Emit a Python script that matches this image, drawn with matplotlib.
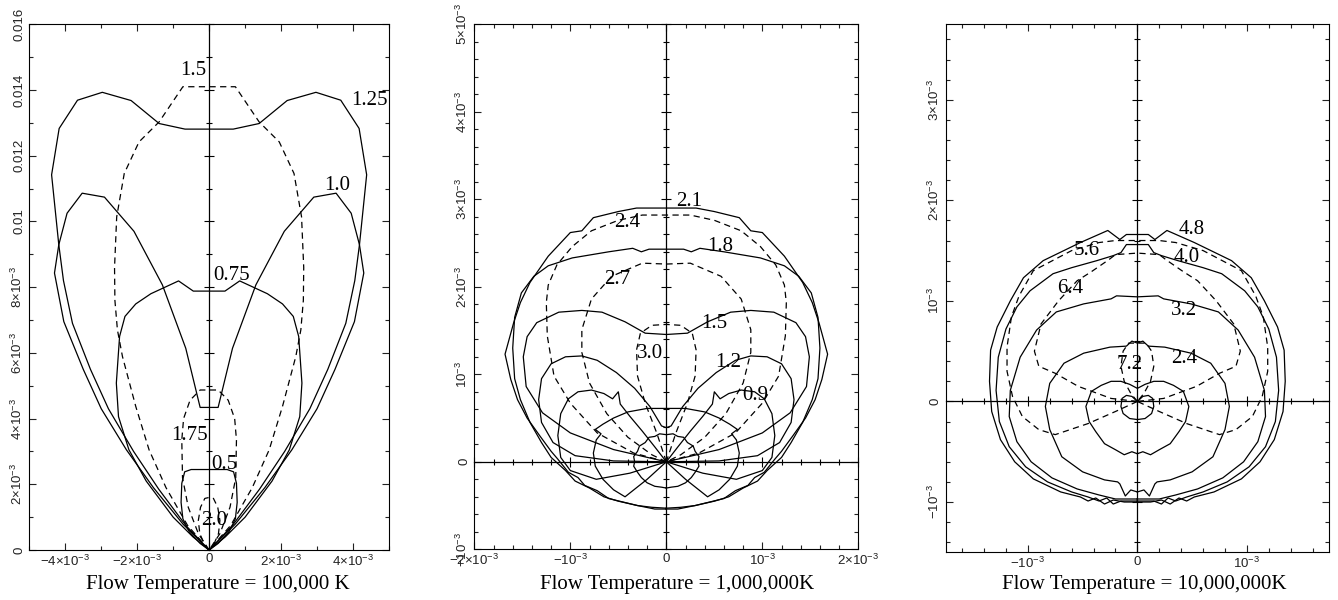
import matplotlib.pyplot as plt
from matplotlib.ticker import MultipleLocator

plt.rcParams['font.family'] = 'Liberation Sans'
plt.rcParams['mathtext.fontset'] = 'custom'
plt.rcParams['mathtext.rm'] = 'Liberation Sans'
plt.rcParams['mathtext.default'] = 'regular'

# Every curve is symmetric about x = 0: only the right half is stored,
# from the top (x = 0) clockwise down to the bottom.  Units of 1e-3.

# ---- T = 1e5 K ----
a_125_x = [0, 0.67, 1.39, 2.17, 2.97, 3.66, 4.17, 4.38, 4.18, 4.05, 3.80, 3.30, 2.80, 2.10, 1.40, 0.65, 0]
a_125_y = [12.81, 12.81, 12.98, 13.68, 13.93, 13.69, 12.83, 11.42, 9.29, 8.2, 6.9, 5.5, 4.3, 3.0, 1.85, 0.75, 0]
a_100_x = [0, 0.25, 0.65, 1.30, 2.09, 2.91, 3.53, 3.95, 4.18, 4.30, 4.04, 3.50, 3.0, 2.30, 1.55, 0.72, 0]
a_100_y = [4.34, 4.34, 6.14, 8.07, 9.70, 10.74, 10.86, 10.25, 9.29, 8.43, 6.95, 5.5, 4.3, 3.05, 1.9, 0.78, 0]
a_075_x = [0, 0.44, 0.85, 1.62, 2.04, 2.34, 2.49, 2.58, 2.52, 2.23, 1.75, 1.0, 0.45, 0]
a_075_y = [7.88, 7.88, 8.19, 7.80, 7.49, 7.11, 6.50, 5.08, 4.06, 3.05, 2.1, 1.0, 0.4, 0]
a_050_x = [0, 0.5, 0.68, 0.76, 0.78, 0.73, 0.55, 0.25, 0]
a_050_y = [2.45, 2.45, 2.38, 2.03, 1.45, 0.95, 0.55, 0.2, 0]
a_150_x = [0, 0.73, 1.39, 1.95, 2.36, 2.57, 2.63, 2.62, 2.55, 2.41, 2.04, 1.67, 1.2, 0.6, 0]
a_150_y = [14.1, 14.1, 13.03, 12.42, 11.46, 10.14, 8.6, 7.6, 6.7, 5.89, 4.37, 3.05, 1.9, 0.75, 0]
a_175_x = [0, 0.25, 0.53, 0.71, 0.76, 0.74, 0.58, 0.3, 0]
a_175_y = [4.87, 4.87, 4.56, 4.0, 3.35, 2.2, 1.3, 0.5, 0]
a_200_x = [0, 0.12, 0.24, 0.3, 0.26, 0.14, 0.04, 0]
a_200_y = [1.6, 1.57, 1.3, 0.9, 0.5, 0.2, 0.04, 0]

# ---- T = 1e6 K ----
b_210_x = [0, 0.31, 0.5, 0.76, 0.88, 1.0, 1.23, 1.42, 1.52, 1.59, 1.68, 1.62, 1.55, 1.45, 1.32, 1.2, 1.13,
           1.02, 0.92, 0.85, 0.72, 0.6, 0.45, 0.3, 0.15, 0]
b_210_y = [2.90, 2.90, 2.86, 2.79, 2.64, 2.62, 2.35, 2.05, 1.82, 1.59, 1.23, 0.94, 0.71, 0.5, 0.3, 0.12, 0.03,
           -0.12, -0.18, -0.27, -0.33, -0.42, -0.46, -0.5, -0.52, -0.53]
b_180_x = [0, 0.18, 0.26, 0.35, 0.6, 0.98, 1.23, 1.38, 1.51, 1.58, 1.60, 1.58, 1.52, 1.42, 1.3, 1.2, 1.05,
           0.95, 0.8, 0.65, 0.5, 0.3, 0.12, 0]
b_180_y = [2.43, 2.43, 2.40, 2.44, 2.40, 2.33, 2.24, 2.12, 1.93, 1.65, 1.3, 0.95, 0.71, 0.45, 0.22, 0.05, -0.1,
           -0.22, -0.3, -0.4, -0.45, -0.5, -0.54, -0.54]
b_150_x = [0, 0.22, 0.43, 0.67, 0.88, 1.12, 1.35, 1.45, 1.49, 1.46, 1.29, 1.0, 0.55, 0]
b_150_y = [1.455, 1.47, 1.6, 1.71, 1.73, 1.71, 1.59, 1.43, 1.2, 0.86, 0.56, 0.33, 0.14, 0]
b_120_x = [0, 0.05, 0.17, 0.33, 0.52, 0.72, 0.88, 1.05, 1.2, 1.3, 1.33, 1.3, 1.18, 0.95, 0.55, 0]
b_120_y = [0.39, 0.41, 0.63, 0.84, 1.02, 1.16, 1.21, 1.2, 1.12, 0.95, 0.71, 0.45, 0.22, 0.07, 0.01, 0]
b_090_x = [0, 0.12, 0.25, 0.38, 0.48, 0.5, 0.56, 0.65, 0.78, 0.92, 1.02, 1.1, 1.13, 1.1, 1.0, 0.73, 0.38, 0]
b_090_y = [0, 0.17, 0.35, 0.52, 0.66, 0.8, 0.72, 0.78, 0.82, 0.8, 0.72, 0.55, 0.3, 0.05, -0.1, -0.2, -0.13, 0]
b_060_x = [0, 0.2, 0.4, 0.55, 0.66, 0.74, 0.68, 0.73, 0.76, 0.74, 0.66, 0.55, 0.43, 0.2, 0]
b_060_y = [0.61, 0.61, 0.57, 0.5, 0.43, 0.37, 0.32, 0.25, 0.1, -0.05, -0.2, -0.32, -0.40, -0.2, 0]
b_030_x = [0, 0.07, 0.12, 0.18, 0.22, 0.28, 0.3, 0.34, 0.33, 0.34, 0.3, 0.26, 0.2, 0.12, 0.05, 0]
b_030_y = [0.31, 0.32, 0.29, 0.28, 0.22, 0.18, 0.12, 0.06, 0.0, -0.05, -0.12, -0.18, -0.24, -0.28, -0.29, -0.30]
b_240_x = [0, 0.25, 0.5, 0.78, 0.98, 1.14, 1.23, 1.25, 1.24, 1.17, 1.0, 0.72, 0.34, 0]
b_240_y = [2.82, 2.82, 2.76, 2.64, 2.46, 2.25, 2.02, 1.82, 1.44, 0.98, 0.67, 0.33, 0.1, 0]
b_270_x = [0, 0.25, 0.57, 0.78, 0.88, 0.88, 0.8, 0.62, 0.4, 0.15, 0]
b_270_y = [2.26, 2.27, 2.12, 1.86, 1.51, 1.25, 0.9, 0.55, 0.28, 0.08, 0]
b_300_x = [0, 0.15, 0.27, 0.31, 0.3, 0.22, 0.1, 0]
b_300_y = [1.57, 1.56, 1.47, 1.28, 0.98, 0.67, 0.33, 0]

# ---- T = 1e7 K ----
c_480_x = [0, 0.1, 0.16, 0.27, 0.52, 0.86, 1.04, 1.16, 1.28, 1.34, 1.35, 1.33, 1.25, 1.12, 0.95, 0.7, 0.52,
           0.45, 0.38, 0.3, 0.22, 0.12, 0]
c_480_y = [1.66, 1.66, 1.61, 1.70, 1.58, 1.40, 1.23, 1.0, 0.74, 0.51, 0.2, -0.1, -0.38, -0.6, -0.77, -0.9, -0.95,
           -0.99, -0.96, -1.02, -0.98, -1.0, -1.0]
c_400_x = [0, 0.1, 0.15, 0.22, 0.37, 0.6, 0.77, 0.98, 1.10, 1.2, 1.27, 1.29, 1.26, 1.17, 1.02, 0.82, 0.6,
           0.45, 0.35, 0.28, 0.22, 0.15, 0]
c_400_y = [1.56, 1.56, 1.48, 1.45, 1.40, 1.33, 1.27, 1.10, 0.94, 0.72, 0.44, 0.11, -0.2, -0.45, -0.65, -0.8,
           -0.9, -0.95, -0.99, -0.96, -1.02, -0.99, -0.99]
c_320_x = [0, 0.19, 0.24, 0.49, 0.74, 0.92, 1.07, 1.16, 1.17, 1.1, 0.97, 0.78, 0.55, 0.35, 0.2, 0]
c_320_y = [1.04, 1.05, 1.02, 0.97, 0.89, 0.71, 0.44, 0.11, -0.15, -0.4, -0.6, -0.76, -0.87, -0.93, -0.97, -0.97]
c_240_x = [0, 0.05, 0.1, 0.25, 0.49, 0.67, 0.8, 0.84, 0.8, 0.69, 0.5, 0.3, 0.18, 0.16, 0.11, 0.06, 0]
c_240_y = [0.58, 0.6, 0.55, 0.54, 0.48, 0.38, 0.18, -0.05, -0.28, -0.55, -0.7, -0.78, -0.8, -0.82, -0.94, -0.88, -0.9]
c_160_x = [0, 0.07, 0.15, 0.24, 0.33, 0.42, 0.47, 0.44, 0.38, 0.3, 0.2, 0.12, 0.05, 0]
c_160_y = [0.13, 0.17, 0.2, 0.2, 0.16, 0.1, -0.05, -0.2, -0.3, -0.42, -0.48, -0.53, -0.5, -0.52]
c_080_x = [0, 0.05, 0.1, 0.14, 0.15, 0.13, 0.07, 0]
c_080_y = [0.0, 0.05, 0.06, 0.03, -0.05, -0.12, -0.17, -0.18]
c_560_x = [0, 0.2, 0.35, 0.6, 0.95, 1.08, 1.15, 1.19, 1.19, 1.14, 1.05, 0.9, 0.75, 0.45, 0.2, 0]
c_560_y = [1.60, 1.60, 1.58, 1.5, 1.3, 1.05, 0.84, 0.54, 0.3, 0.05, -0.15, -0.28, -0.33, -0.22, -0.1, 0]
c_640_x = [0, 0.2, 0.26, 0.42, 0.55, 0.72, 0.88, 0.94, 0.9, 0.75, 0.54, 0.24, 0]
c_640_y = [1.475, 1.46, 1.41, 1.29, 1.2, 1.0, 0.77, 0.5, 0.35, 0.28, 0.15, 0.03, 0]
c_720_x = [0, 0.08, 0.13, 0.15, 0.12, 0.06, 0]
c_720_y = [0.58, 0.58, 0.5, 0.35, 0.2, 0.08, 0]

# curve labels: text, x, y (1e-3)
a_lab = [('1.5', -0.43, 14.6), ('1.25', 4.47, 13.69), ('1.0', 3.56, 11.1), ('0.75', 0.63, 8.35),
         ('1.75', -0.54, 3.5), ('0.5', 0.42, 2.59), ('2.0', 0.14, 0.9)]
b_lab = [('2.1', 0.24, 2.98), ('2.4', -0.41, 2.74), ('1.8', 0.56, 2.46), ('2.7', -0.51, 2.08),
         ('1.5', 0.50, 1.58), ('3.0', -0.17, 1.24), ('1.2', 0.64, 1.14), ('0.9', 0.93, 0.76)]
c_lab = [('4.8', 0.50, 1.71), ('5.6', -0.46, 1.50), ('4.0', 0.45, 1.43), ('6.4', -0.61, 1.12),
         ('3.2', 0.43, 0.90), ('7.2', -0.07, 0.37), ('2.4', 0.43, 0.43)]

solid_a = [(a_125_x, a_125_y), (a_100_x, a_100_y), (a_075_x, a_075_y), (a_050_x, a_050_y)]
dash_a = [(a_150_x, a_150_y), (a_175_x, a_175_y), (a_200_x, a_200_y)]
solid_b = [(b_210_x, b_210_y), (b_180_x, b_180_y), (b_150_x, b_150_y), (b_120_x, b_120_y),
           (b_090_x, b_090_y), (b_060_x, b_060_y), (b_030_x, b_030_y)]
dash_b = [(b_240_x, b_240_y), (b_270_x, b_270_y), (b_300_x, b_300_y)]
solid_c = [(c_480_x, c_480_y), (c_400_x, c_400_y), (c_320_x, c_320_y), (c_240_x, c_240_y),
           (c_160_x, c_160_y), (c_080_x, c_080_y)]
dash_c = [(c_560_x, c_560_y), (c_640_x, c_640_y), (c_720_x, c_720_y)]


def e3(m):
    if m == 0:
        return '0'
    s = '-' if m < 0 else ''
    m = abs(m)
    if m == 1:
        return r'$%s10^{-3}$' % s
    return r'$%s%d{\times}10^{-3}$' % (s, m)


def mirror(xr, yr):
    xs = [-v for v in reversed(xr)] + list(xr[1:])
    ys = list(reversed(yr)) + list(yr[1:])
    return xs, ys


def panel(rect, xlim, ylim, xmaj, xmin, ymaj, ymin, xt, xl, yt, yl, solid, dash, labels, title, tx, hline):
    ax = fig.add_axes(rect)
    for xr, yr in solid:
        xs, ys = mirror(xr, yr)
        ax.plot(xs, ys, color='black', lw=0.9)
    for xr, yr in dash:
        xs, ys = mirror(xr, yr)
        ax.plot(xs, ys, color='black', lw=0.9, dashes=(5, 3.5))
    for t, x, y in labels:
        ax.text(x, y, t, family='Liberation Serif', fontsize=15, ha='center', va='center')
    ax.set_xlim(*xlim)
    ax.set_ylim(*ylim)
    ax.xaxis.set_major_locator(MultipleLocator(xmaj))
    ax.xaxis.set_minor_locator(MultipleLocator(xmin))
    ax.yaxis.set_major_locator(MultipleLocator(ymaj))
    ax.yaxis.set_minor_locator(MultipleLocator(ymin))
    ax.set_xticks(xt, xl)
    ax.set_yticks(yt, yl)
    for lab in ax.get_yticklabels():
        lab.set_rotation(90)
        lab.set_va('center')
    ax.tick_params(which='both', direction='in', top=True, right=True, width=0.8, colors='#222',
                   labelsize=9.5)
    ax.tick_params(which='major', length=5)
    ax.tick_params(which='minor', length=3)
    ax.tick_params(axis='x', pad=2.5)
    ax.tick_params(axis='y', pad=3)
    for s in ax.spines.values():
        s.set_linewidth(0.8)

    # axes through the origin, ticks on both sides
    cx = fig.add_axes(rect, sharex=ax, sharey=ax)
    cx.patch.set_visible(False)
    cx.spines['top'].set_visible(False)
    cx.spines['right'].set_visible(False)
    cx.spines['left'].set_position(('data', 0))
    cx.spines['left'].set_linewidth(0.9)
    if hline:
        cx.spines['bottom'].set_position(('data', 0))
        cx.spines['bottom'].set_linewidth(0.9)
    else:
        cx.spines['bottom'].set_visible(False)
        cx.tick_params(axis='x', which='both', bottom=False)
    cx.tick_params(which='both', direction='inout', labelleft=False, labelbottom=False, width=0.8)
    cx.tick_params(which='major', length=6.5)
    cx.tick_params(which='minor', length=4.5)
    fig.text(tx, 0.026, title, family='Liberation Serif', fontsize=15, ha='center', va='center')
    return ax


fig = plt.figure(figsize=(13.38, 6), dpi=100)

panel([0.0219, 0.0833, 0.2688, 0.8762], (-5.0, 5.0), (0, 16), 2, 1, 2, 1,
      [-4, -2, 0, 2, 4], [e3(v) for v in [-4, -2, 0, 2, 4]],
      [0, 2, 4, 6, 8, 10, 12, 14, 16],
      ['0', e3(2), e3(4), e3(6), e3(8), '0.01', '0.012', '0.014', '0.016'],
      solid_a, dash_a, a_lab, 'Flow Temperature = 100,000 K', 218 / 1338, False)

panel([0.3545, 0.0845, 0.2870, 0.875], (-2.0, 2.0), (-1.0, 5.0), 1, 0.2, 1, 0.2,
      [-2, -1, 0, 1, 2], [e3(v) for v in [-2, -1, 0, 1, 2]],
      [-1, 0, 1, 2, 3, 4, 5], [e3(v) for v in [-1, 0, 1, 2, 3, 4, 5]],
      solid_b, dash_b, b_lab, 'Flow Temperature = 1,000,000K', 677 / 1338, True)

panel([0.7068, 0.0795, 0.2865, 0.88], (-1.75, 1.75), (-1.5, 3.75), 1, 0.2, 1, 0.2,
      [-1, 0, 1], [e3(v) for v in [-1, 0, 1]],
      [-1, 0, 1, 2, 3], [e3(v) for v in [-1, 0, 1, 2, 3]],
      solid_c, dash_c, c_lab, 'Flow Temperature = 10,000,000K', 1144 / 1338, True)

fig.savefig('out.png', dpi=100)
